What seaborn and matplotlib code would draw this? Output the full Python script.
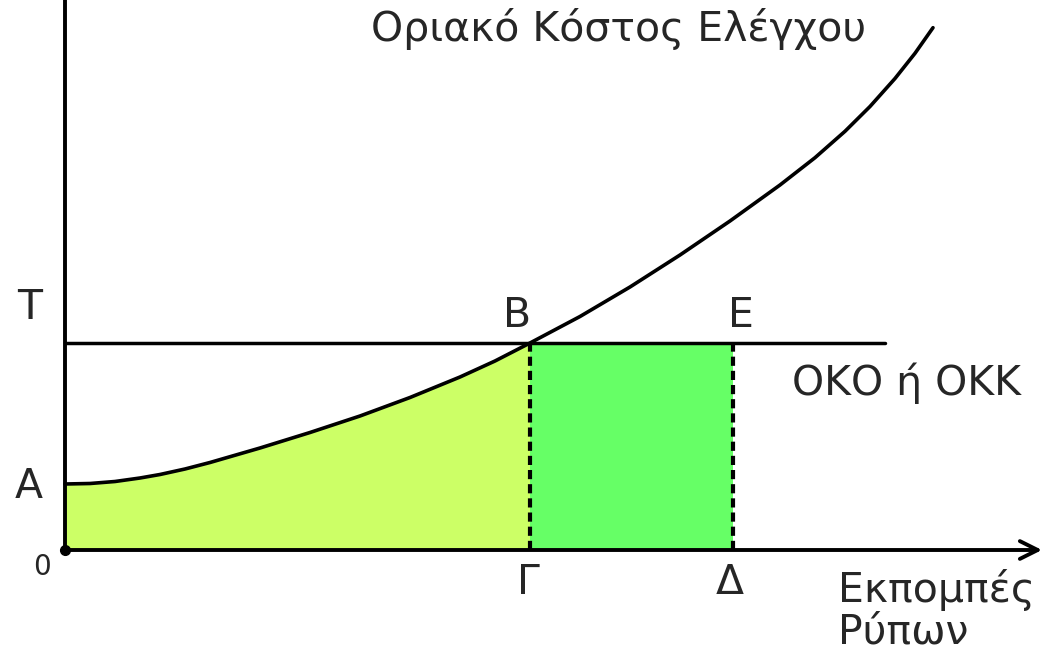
import matplotlib
matplotlib.use("Agg")
import matplotlib.pyplot as plt
import seaborn as sns
import pandas as pd

# ---- data ----
curve_x = [0.0, 0.25, 0.5, 0.75, 0.95, 1.2, 1.45, 1.95, 2.45, 2.95, 3.45, 3.95, 4.3, 4.65,
           5.15, 5.65, 6.15, 6.65, 7.15, 7.5, 7.8, 8.05, 8.3, 8.5, 8.68]
curve_y = [0.66, 0.665, 0.685, 0.72, 0.755, 0.81, 0.875, 1.02, 1.175, 1.34, 1.525, 1.73, 1.89, 2.07,
           2.335, 2.63, 2.95, 3.29, 3.65, 3.923, 4.187, 4.435, 4.715, 4.967, 5.223]
tax_level = 2.07        # T
point_G = 4.65          # Γ
point_D = 6.68          # Δ
tax_line_end = 8.20
axis_arrow_end = 9.77

sns.set_style("white")
plt.rcParams['font.family'] = ['DejaVu Sans']

fig = plt.figure(figsize=(10.47, 6.55), dpi=100)
ax = fig.add_axes([0, 0, 1, 1])
ax.set_xlim(-0.65, 9.82)
ax.set_ylim(-1.05, 5.50)
ax.axis('off')

df = pd.DataFrame({'x': curve_x, 'y': curve_y})
under = df[df['x'] <= point_G]

# fills
ax.fill_between(under['x'], 0, under['y'], color='#ccff66', lw=0, zorder=1)
ax.fill_between([point_G, point_D], 0, tax_level, color='#66ff66', lw=0, zorder=1)

# curve
sns.lineplot(data=df, x='x', y='y', ax=ax, color='black', lw=2.6, zorder=4,
             legend=False, sort=False)

# tax line
ax.plot([0, tax_line_end], [tax_level, tax_level], color='black', lw=2.5, zorder=3)

# dashed verticals
for xv in (point_G, point_D):
    ax.plot([xv, xv], [0, tax_level], color='black', lw=3, ls=(0, (2.2, 1.2)), zorder=3)

# axes
ax.plot([0, 0], [0, 5.6], color='black', lw=2.8, zorder=5, solid_capstyle='butt')
ax.annotate('', xy=(axis_arrow_end, 0), xytext=(0, 0),
            arrowprops=dict(arrowstyle='->', lw=2.8, color='black',
                            mutation_scale=32, shrinkA=0, shrinkB=0), zorder=5)
ax.plot([0], [0], 'o', color='black', ms=7, zorder=6)

# texts
fs = 29.5
ax.text(5.54, 5.21, 'Οριακό Κόστος Ελέγχου', fontsize=fs, ha='center', va='center')
ax.text(-0.35, 2.42, 'T', fontsize=fs, ha='center', va='center')
ax.text(-0.36, 0.63, 'A', fontsize=fs, ha='center', va='center')
ax.text(-0.23, -0.17, '0', fontsize=20, ha='center', va='center')
ax.text(4.52, 2.34, 'B', fontsize=fs, ha='center', va='center')
ax.text(6.76, 2.34, 'E', fontsize=fs, ha='center', va='center')
ax.text(4.63, -0.33, 'Γ', fontsize=fs, ha='center', va='center')
ax.text(6.65, -0.33, 'Δ', fontsize=fs, ha='center', va='center')
ax.text(7.27, 1.67, 'ΟΚΟ ή ΟΚΚ', fontsize=fs, ha='left', va='center')
ax.text(7.73, -0.40, 'Εκπομπές', fontsize=fs, ha='left', va='center')
ax.text(7.73, -0.82, 'Ρύπων', fontsize=fs, ha='left', va='center')

fig.savefig('out.png', dpi=100)
